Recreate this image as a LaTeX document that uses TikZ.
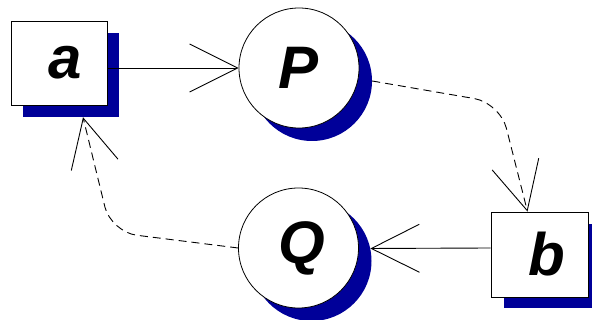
\documentclass[tikz,border=0pt]{standalone}
\usepackage{fontspec}
\setmainfont{Liberation Sans}
\usetikzlibrary{arrows.meta}
\definecolor{shadowblue}{RGB}{0,0,153}
\begin{document}
\begin{tikzpicture}[x=1pt,y=-1pt,
  box/.style={draw=black, fill=white, line width=0.8pt, minimum width=96pt, minimum height=84pt, inner sep=0pt},
  boxshadow/.style={fill=shadowblue, minimum width=96pt, minimum height=84pt, inner sep=0pt},
  proc/.style={circle, draw=black, fill=white, minimum size=120pt, inner sep=0pt, line width=0.8pt},
  procshadow/.style={circle, fill=shadowblue, minimum size=120pt, inner sep=0pt},
  lbl/.style={font=\fontsize{60}{60}\selectfont\bfseries\itshape},
  link/.style={line width=0.9pt, -{Straight Barb[length=48pt,width=48pt,line width=0.9pt]}},
  flow/.style={link, dash pattern=on 8pt off 5pt, rounded corners=26pt},
  ]
\useasboundingbox (0,0) rectangle (592,320);
\clip (0,0) rectangle (592,320);
% shadows
\node[boxshadow] (as) at (71,75) {};
\node[procshadow] (Ps) at (312,81) {};
\node[procshadow] (Qs) at (311.5,261) {};
\node[boxshadow] (bs) at (551.5,266.5) {};
% nodes
\node[box,lbl] (a) at (59,63) {\hspace*{12pt}a};
\node[proc,lbl] (P) at (299,68) {P};
\node[proc,lbl] (Q) at (298.5,248) {\hspace*{6pt}Q};
\node[box,lbl,minimum width=97pt,minimum height=85pt] (b) at (539.5,254.5) {\hspace*{14pt}b};
% corners of the dashed flows
\coordinate (c1) at (500,103);
\coordinate (c2) at (111,232);
% connectors
\draw[link] (a.east |- P.west) -- (P.west);
\draw[link] (b.west |- Q.east) -- (Qs.12.5);
\draw[flow] (Ps.east) -- (c1) -- ([xshift=-12pt]b.north);
\draw[flow] (Q.west) -- (c2) -- ([xshift=12pt]as.south);
\end{tikzpicture}
\end{document}
